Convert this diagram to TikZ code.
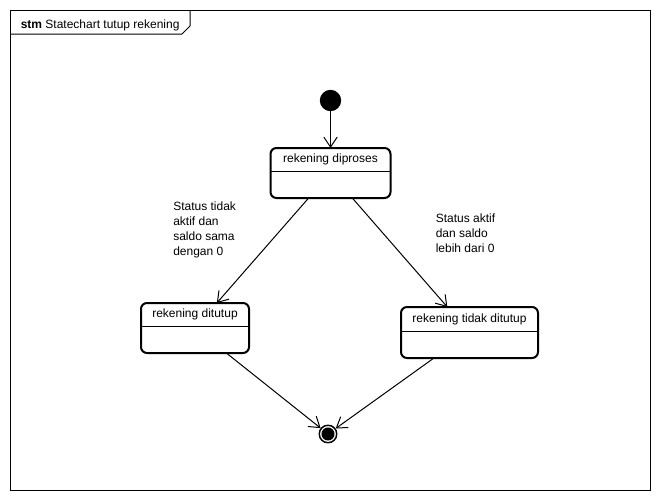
\documentclass[tikz,border=0pt]{standalone}
\usepackage{fontspec}
\setmainfont{Liberation Sans}
\usetikzlibrary{arrows.meta,calc}
\begin{document}
\begin{tikzpicture}[x=0.75pt,y=-0.75pt,
  every node/.style={font=\fontsize{9}{11.25}\selectfont},
  statebox/.style={draw,rounded corners=4.5pt,line width=1.5pt,outer sep=0pt,inner sep=0pt},
  sepline/.style={line width=0.75pt},
  flow/.style={line width=0.75pt,-{Straight Barb[length=7.5pt,width=10pt]}},
  guard/.style={anchor=north west,align=left,inner sep=0pt},
  frameline/.style={line width=0.75pt}
]
\useasboundingbox (0,0) rectangle (660,500);
\draw[frameline] (10.5,10.5) rectangle (650.5,490.5);
\draw[frameline] (10.5,34) -- (182,34) -- (190,26) -- (190,10.5);
\node[anchor=north west,inner sep=0pt] (title) at (20.5,19.5) {\textbf{stm} Statechart tutup rekening};

% initial
\node[circle,fill,minimum size=16pt,inner sep=0pt] (init) at (330.5,100.5) {};

% states
\node[statebox,minimum width=90pt,minimum height=37.5pt] (p) at (330.5,173) {};
\draw[sepline] ($(p.north west)+(0,23)$) -- ($(p.north east)+(0,23)$);
\node (pt) at ($(p.north)+(0,11.5)$) {rekening diproses};

\node[statebox,minimum width=81pt,minimum height=37.5pt] (d) at (195,328) {};
\draw[sepline] ($(d.north west)+(0,23)$) -- ($(d.north east)+(0,23)$);
\node (dt) at ($(d.north)+(0,11.5)$) {rekening ditutup};

\node[statebox,minimum width=102.75pt,minimum height=38.25pt] (t) at (469.5,332.5) {};
\draw[sepline] ($(t.north west)+(0,24)$) -- ($(t.north east)+(0,24)$);
\node (tt) at ($(t.north)+(0,12)$) {rekening tidak ditutup};

% final
\node[circle,draw,line width=1.1pt,minimum size=13.1pt,inner sep=0pt] (fin) at (328,434) {};
\fill (fin.center) circle (4.9pt);

% transitions
\draw[flow] (init) -- (p);
\draw[flow] (p) -- (d);
\draw[flow] (p) -- (t);
\draw[flow] (d) -- (fin);
\draw[flow] (t) -- (fin);

% guards
\node[guard] (g1) at (173,202) {Status tidak\\aktif dan\\saldo sama\\dengan 0};
\node[guard] (g2) at (435.5,214) {Status aktif\\dan saldo\\lebih dari 0};
\end{tikzpicture}
\end{document}
